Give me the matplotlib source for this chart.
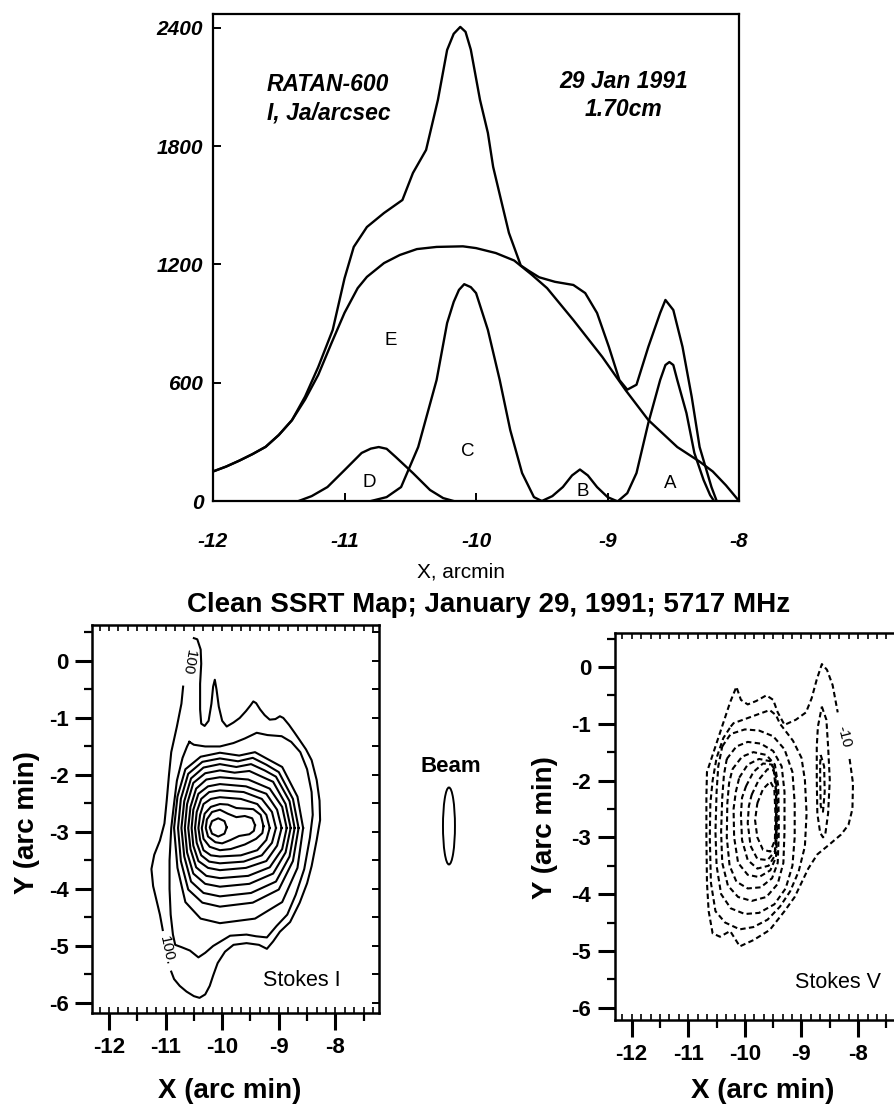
import numpy as np
import matplotlib
matplotlib.use("Agg")
import matplotlib.pyplot as plt
from matplotlib.patches import Ellipse
from matplotlib.ticker import MultipleLocator
from matplotlib.font_manager import FontProperties

# ---------------- RATAN-600 scan (1.70 cm) ----------------
x_tot = [-12.0, -11.9, -11.8, -11.7, -11.6, -11.5, -11.4, -11.3, -11.2, -11.09, -11.0,
         -10.93, -10.83, -10.70, -10.56, -10.48, -10.38, -10.29, -10.22, -10.17, -10.12,
         -10.08, -10.04, -9.97, -9.91, -9.87, -9.81, -9.75, -9.66, -9.60, -9.52, -9.40,
         -9.26, -9.17, -9.08, -8.99, -8.91, -8.85, -8.78, -8.69, -8.60, -8.56, -8.50,
         -8.43, -8.36, -8.30, -8.21, -8.17]
i_tot = [150, 175, 205, 238, 275, 335, 410, 530, 680, 868, 1130,
         1289, 1390, 1461, 1527, 1664, 1781, 2035, 2288, 2370, 2405,
         2380, 2290, 2035, 1867, 1695, 1527, 1360, 1195, 1168, 1135, 1112,
         1096, 1055, 954, 782, 614, 565, 590, 782, 954, 1020, 969,
         782, 528, 274, 71, 0]

x_e = [-12.0, -11.9, -11.8, -11.7, -11.6, -11.5, -11.4, -11.3, -11.2, -11.1, -11.0, -10.9,
       -10.83, -10.7, -10.58, -10.45, -10.3, -10.1, -10.0, -9.85, -9.71, -9.58, -9.46,
       -9.26, -9.04, -8.86, -8.69, -8.47, -8.3, -8.2, -8.1, -8.0]
i_e = [150, 175, 205, 238, 275, 335, 410, 515, 640, 800, 955, 1080,
       1137, 1207, 1248, 1278, 1289, 1292, 1283, 1258, 1220, 1150, 1080,
       918, 731, 560, 411, 274, 200, 150, 80, 0]

x_d = [-11.35, -11.25, -11.13, -11.0, -10.87, -10.80, -10.74, -10.68, -10.61, -10.48,
       -10.35, -10.25, -10.17]
i_d = [0, 25, 71, 157, 244, 266, 274, 265, 223, 142, 56, 15, 0]

x_c = [-10.80, -10.68, -10.57, -10.44, -10.30, -10.22, -10.17, -10.13, -10.09, -10.04,
       -10.0, -9.91, -9.82, -9.74, -9.65, -9.56, -9.50]
i_c = [0, 20, 71, 274, 614, 903, 1010, 1071, 1100, 1085, 1055, 868, 614, 360, 142, 20, 0]

x_b = [-9.50, -9.42, -9.34, -9.27, -9.21, -9.15, -9.08, -9.00, -8.93]
i_b = [0, 25, 71, 130, 160, 130, 71, 20, 0]

x_a = [-8.92, -8.85, -8.78, -8.69, -8.60, -8.56, -8.53, -8.50, -8.47, -8.40, -8.34,
       -8.27, -8.22, -8.19]
i_a = [0, 40, 142, 396, 614, 690, 705, 690, 614, 446, 244, 107, 30, 0]

comp_names = ["E", "C", "D", "B", "A"]
comp_label_x = [-10.65, -10.06, -10.81, -9.19, -8.52]
comp_label_y = [812, 249, 96, 46, 91]

top_xticks = [-12, -11, -10, -9, -8]
top_yticks = [0, 600, 1200, 1800, 2400]

# ---------------- SSRT 5717 MHz, Stokes I contours (arc min) ----------------
I_100a = [(-10.69, -0.45), (-10.72, -0.75), (-10.80, -1.15), (-10.90, -1.60), (-10.94, -2.00),
          (-10.98, -2.45), (-11.02, -2.85), (-11.10, -3.15), (-11.20, -3.40), (-11.25, -3.65),
          (-11.22, -3.95), (-11.16, -4.20), (-11.10, -4.45), (-11.05, -4.72)]
I_100b = [(-10.90, -5.45), (-10.85, -5.58), (-10.75, -5.70), (-10.63, -5.80), (-10.50, -5.88),
          (-10.40, -5.91), (-10.30, -5.85), (-10.22, -5.70), (-10.16, -5.52), (-10.08, -5.30),
          (-9.95, -5.10), (-9.80, -4.98), (-9.57, -4.95), (-9.35, -4.98), (-9.21, -5.05),
          (-9.10, -4.92), (-8.98, -4.75), (-8.80, -4.58), (-8.63, -4.24), (-8.50, -3.90),
          (-8.42, -3.60), (-8.33, -3.14), (-8.27, -2.79), (-8.28, -2.45), (-8.33, -2.09),
          (-8.42, -1.74), (-8.52, -1.55), (-8.63, -1.39), (-8.72, -1.26), (-8.82, -1.12),
          (-8.92, -1.00), (-8.98, -0.97), (-9.06, -1.02), (-9.16, -1.03), (-9.25, -0.95),
          (-9.33, -0.85), (-9.40, -0.74), (-9.45, -0.71), (-9.50, -0.78), (-9.58, -0.88),
          (-9.69, -1.00), (-9.80, -1.08), (-9.92, -1.15), (-10.00, -1.05), (-10.06, -0.80),
          (-10.10, -0.50), (-10.13, -0.33), (-10.16, -0.45), (-10.19, -0.75), (-10.24, -1.05),
          (-10.31, -1.14), (-10.37, -1.10), (-10.39, -0.85), (-10.39, -0.40), (-10.37, -0.05),
          (-10.38, 0.20), (-10.44, 0.38), (-10.50, 0.40)]
I_200 = [(-10.58, -1.42), (-10.50, -1.47), (-10.30, -1.50), (-10.04, -1.50), (-9.80, -1.44),
         (-9.60, -1.36), (-9.39, -1.26), (-9.20, -1.30), (-8.95, -1.32), (-8.78, -1.42),
         (-8.62, -1.60), (-8.50, -1.90), (-8.42, -2.30), (-8.40, -2.70), (-8.45, -3.10),
         (-8.55, -3.65), (-8.70, -4.10), (-8.85, -4.45), (-9.04, -4.65), (-9.21, -4.85),
         (-9.40, -4.83), (-9.57, -4.80), (-9.86, -4.82), (-10.16, -5.00), (-10.30, -5.12),
         (-10.42, -5.20), (-10.57, -5.08), (-10.72, -5.02), (-10.83, -4.98), (-10.87, -4.80),
         (-10.91, -4.45), (-10.93, -4.00), (-10.93, -3.50), (-10.90, -2.93), (-10.85, -2.50),
         (-10.80, -2.10), (-10.70, -1.70), (-10.62, -1.50)]
I_300 = [(-8.57, -2.93), (-8.67, -2.38), (-8.94, -1.86), (-9.20, -1.72), (-9.42, -1.60),
         (-9.70, -1.66), (-10.04, -1.61), (-10.38, -1.68), (-10.65, -1.90), (-10.79, -2.38),
         (-10.85, -2.93), (-10.79, -3.63), (-10.65, -4.23), (-10.38, -4.52), (-10.04, -4.60),
         (-9.42, -4.52), (-8.94, -4.23), (-8.67, -3.63)]
I_400 = [(-8.65, -2.93), (-8.75, -2.42), (-9.00, -1.95), (-9.22, -1.82), (-9.46, -1.70),
         (-9.72, -1.76), (-10.04, -1.71), (-10.35, -1.77), (-10.60, -1.98), (-10.73, -2.42),
         (-10.78, -2.93), (-10.73, -3.51), (-10.60, -4.01), (-10.35, -4.24), (-10.04, -4.31),
         (-9.46, -4.24), (-9.00, -4.01), (-8.75, -3.51)]
I_500 = [(-8.72, -2.93), (-8.81, -2.46), (-9.05, -2.03), (-9.25, -1.92), (-9.49, -1.81),
         (-9.75, -1.86), (-10.04, -1.81), (-10.33, -1.87), (-10.55, -2.06), (-10.67, -2.46),
         (-10.72, -2.93), (-10.67, -3.43), (-10.55, -3.87), (-10.33, -4.07), (-10.04, -4.13),
         (-9.49, -4.07), (-9.05, -3.87), (-8.81, -3.43)]
I_600 = [(-8.79, -2.93), (-8.88, -2.51), (-9.10, -2.12), (-9.30, -2.03), (-9.52, -1.93),
         (-9.78, -1.96), (-10.04, -1.92), (-10.30, -1.97), (-10.51, -2.14), (-10.62, -2.51),
         (-10.66, -2.93), (-10.62, -3.36), (-10.51, -3.73), (-10.30, -3.91), (-10.04, -3.96),
         (-9.52, -3.91), (-9.10, -3.73), (-8.88, -3.36)]
I_700 = [(-8.86, -2.93), (-8.94, -2.56), (-9.16, -2.24), (-9.54, -2.08), (-10.04, -2.04),
         (-10.28, -2.08), (-10.46, -2.24), (-10.56, -2.56), (-10.60, -2.93), (-10.56, -3.30),
         (-10.46, -3.62), (-10.28, -3.77), (-10.04, -3.81), (-9.54, -3.77), (-9.16, -3.62),
         (-8.94, -3.30)]
I_800 = [(-8.95, -2.93), (-9.03, -2.61), (-9.22, -2.33), (-9.58, -2.20), (-10.04, -2.16),
         (-10.25, -2.20), (-10.42, -2.33), (-10.51, -2.61), (-10.54, -2.93), (-10.51, -3.24),
         (-10.42, -3.51), (-10.25, -3.63), (-10.04, -3.67), (-9.58, -3.63), (-9.22, -3.51),
         (-9.03, -3.24)]
I_900 = [(-9.05, -2.93), (-9.12, -2.65), (-9.30, -2.42), (-9.62, -2.30), (-10.04, -2.27),
         (-10.23, -2.30), (-10.37, -2.42), (-10.45, -2.65), (-10.48, -2.93), (-10.45, -3.19),
         (-10.37, -3.41), (-10.23, -3.52), (-10.04, -3.55), (-9.62, -3.52), (-9.30, -3.41),
         (-9.12, -3.19)]
I_1000 = [(-9.16, -2.93), (-9.22, -2.70), (-9.38, -2.51), (-9.67, -2.42), (-10.04, -2.39),
          (-10.20, -2.42), (-10.33, -2.51), (-10.39, -2.70), (-10.42, -2.93), (-10.39, -3.14),
          (-10.33, -3.32), (-10.20, -3.41), (-10.04, -3.43), (-9.67, -3.41), (-9.38, -3.32),
          (-9.22, -3.14)]
I_1100 = [(-9.27, -2.90), (-9.32, -2.70), (-9.45, -2.60), (-9.75, -2.58), (-9.90, -2.52),
          (-10.04, -2.51), (-10.20, -2.56), (-10.31, -2.68), (-10.36, -2.93), (-10.33, -3.12),
          (-10.22, -3.26), (-10.04, -3.32), (-9.85, -3.30), (-9.60, -3.22), (-9.40, -3.12),
          (-9.29, -3.02)]
I_1200 = [(-9.42, -2.88), (-9.47, -2.76), (-9.60, -2.72), (-9.75, -2.74), (-9.90, -2.68),
          (-10.04, -2.61), (-10.18, -2.65), (-10.27, -2.78), (-10.29, -2.93), (-10.25, -3.08),
          (-10.12, -3.18), (-10.00, -3.20), (-9.85, -3.14), (-9.70, -3.07), (-9.52, -3.04),
          (-9.44, -2.98)]
I_1300 = [(-9.92, -2.92), (-9.96, -2.81), (-10.07, -2.76), (-10.18, -2.81), (-10.22, -2.92),
          (-10.18, -3.03), (-10.07, -3.08), (-9.96, -3.03)]

# ---------------- Stokes V contours (arc min), dashed ----------------
V_10 = [(-8.15, -1.62), (-8.09, -2.05), (-8.10, -2.50), (-8.17, -2.78), (-8.30, -2.95),
        (-8.50, -3.12), (-8.72, -3.30), (-8.88, -3.55), (-9.00, -3.80), (-9.12, -4.05),
        (-9.30, -4.30), (-9.56, -4.63), (-9.85, -4.81), (-10.09, -4.92), (-10.26, -4.65),
        (-10.44, -4.75), (-10.57, -4.69), (-10.64, -4.30), (-10.67, -3.80), (-10.68, -3.00),
        (-10.68, -2.30), (-10.67, -1.85), (-10.56, -1.52), (-10.42, -1.10), (-10.26, -0.62),
        (-10.15, -0.35), (-10.07, -0.58), (-9.95, -0.66), (-9.80, -0.60), (-9.62, -0.50),
        (-9.50, -0.58), (-9.42, -0.80), (-9.30, -1.02), (-9.10, -0.93), (-8.92, -0.80),
        (-8.82, -0.55), (-8.73, -0.22), (-8.64, 0.05), (-8.55, -0.05), (-8.45, -0.32),
        (-8.36, -0.80)]
V_20 = [(-10.25, -1.05), (-10.20, -0.99), (-9.95, -0.90), (-9.73, -0.82), (-9.56, -0.76),
        (-9.45, -0.85), (-9.38, -1.00), (-9.15, -1.30), (-9.00, -1.60), (-8.94, -1.99),
        (-8.91, -2.58), (-8.94, -3.16), (-9.05, -3.60), (-9.20, -3.95), (-9.38, -4.22),
        (-9.60, -4.45), (-9.85, -4.58), (-10.09, -4.62), (-10.35, -4.50), (-10.52, -4.30),
        (-10.60, -3.80), (-10.62, -3.00), (-10.61, -2.40), (-10.57, -2.00), (-10.50, -1.60),
        (-10.38, -1.25)]
V_20_lobe = [(-8.64, -0.70), (-8.56, -0.93), (-8.53, -1.40), (-8.50, -1.99), (-8.53, -2.58),
             (-8.58, -2.95), (-8.62, -3.00), (-8.67, -2.92), (-8.72, -2.58), (-8.73, -1.99),
             (-8.73, -1.40), (-8.71, -1.05)]
V_30_lobe = [(-8.66, -1.55), (-8.60, -1.75), (-8.59, -2.20), (-8.62, -2.55), (-8.66, -2.45),
             (-8.67, -2.00), (-8.67, -1.70)]
V_30 = [(-10.40, -1.40), (-10.25, -1.18), (-10.00, -1.10), (-9.75, -1.12), (-9.50, -1.22),
        (-9.30, -1.45), (-9.16, -1.85), (-9.12, -2.40), (-9.12, -3.00), (-9.16, -3.50),
        (-9.28, -3.90), (-9.48, -4.18), (-9.75, -4.33), (-10.00, -4.35), (-10.25, -4.25),
        (-10.42, -4.00), (-10.50, -3.50), (-10.52, -2.90), (-10.50, -2.20), (-10.47, -1.75)]
V_40 = [(-10.32, -1.62), (-10.15, -1.40), (-9.95, -1.32), (-9.72, -1.35), (-9.50, -1.48),
        (-9.35, -1.75), (-9.30, -2.20), (-9.30, -2.90), (-9.32, -3.45), (-9.42, -3.82),
        (-9.62, -4.05), (-9.88, -4.12), (-10.12, -4.05), (-10.30, -3.85), (-10.40, -3.45),
        (-10.42, -2.90), (-10.40, -2.30), (-10.37, -1.90)]
V_50 = [(-10.22, -1.80), (-10.05, -1.58), (-9.85, -1.50), (-9.62, -1.55), (-9.47, -1.72),
        (-9.41, -2.10), (-9.40, -2.90), (-9.42, -3.45), (-9.52, -3.72), (-9.72, -3.88),
        (-9.95, -3.90), (-10.15, -3.78), (-10.27, -3.50), (-10.32, -3.00), (-10.31, -2.40),
        (-10.28, -2.05)]
V_60 = [(-10.10, -1.95), (-9.95, -1.72), (-9.75, -1.62), (-9.55, -1.66), (-9.46, -1.85),
        (-9.43, -2.30), (-9.43, -2.90), (-9.45, -3.35), (-9.55, -3.58), (-9.75, -3.70),
        (-9.95, -3.66), (-10.12, -3.45), (-10.19, -3.00), (-10.20, -2.50), (-10.16, -2.20)]
V_70 = [(-9.98, -2.10), (-9.85, -1.85), (-9.68, -1.70), (-9.52, -1.72), (-9.46, -1.95),
        (-9.44, -2.50), (-9.44, -3.00), (-9.47, -3.32), (-9.58, -3.50), (-9.78, -3.55),
        (-9.95, -3.40), (-10.05, -3.05), (-10.07, -2.60), (-10.05, -2.30)]
V_80 = [(-9.88, -2.25), (-9.75, -1.98), (-9.60, -1.80), (-9.49, -1.82), (-9.45, -2.20),
        (-9.45, -2.90), (-9.47, -3.25), (-9.60, -3.40), (-9.78, -3.38), (-9.90, -3.15),
        (-9.95, -2.75), (-9.93, -2.45)]
V_90 = [(-9.78, -2.40), (-9.68, -2.15), (-9.55, -2.02), (-9.48, -2.15), (-9.46, -2.60),
        (-9.47, -3.05), (-9.55, -3.25), (-9.68, -3.22), (-9.78, -3.00), (-9.82, -2.70)]

map_xticks = [-12, -11, -10, -9, -8]
map_yticks = [-6, -5, -4, -3, -2, -1, 0]

# ---------------- drawing ----------------
sans = ["Liberation Sans", "DejaVu Sans"]
plt.rcParams["font.family"] = sans

fig = plt.figure(figsize=(8.94, 11.09), dpi=100)

# top panel
ax = fig.add_axes([0.2383, 0.5482, 0.5884, 0.4391])
for xs, ys in [(x_tot, i_tot), (x_e, i_e), (x_d, i_d), (x_c, i_c), (x_b, i_b), (x_a, i_a)]:
    ax.plot(xs, ys, color="black", lw=1.7, solid_joinstyle="round")
ax.set_xlim(-12, -8)
ax.set_ylim(0, 2470)
fp_tick = FontProperties(family=sans, weight="bold", style="italic", size=15)
ax.set_xticks(top_xticks, [str(v) for v in top_xticks], fontproperties=fp_tick)
ax.set_yticks(top_yticks, [str(v) for v in top_yticks], fontproperties=fp_tick)
ax.tick_params(axis="both", direction="in", length=6, width=1.4)
ax.tick_params(axis="x", pad=22)
ax.tick_params(axis="y", pad=7)
for s in ax.spines.values():
    s.set_linewidth(1.6)

fp_head = FontProperties(family=sans, weight="bold", style="italic", size=16.5)
ax.text(-11.59, 2111, "RATAN-600", ha="left", va="center", fontproperties=fp_head)
ax.text(-11.59, 1969, "I, Ja/arcsec", ha="left", va="center", fontproperties=fp_head)
ax.text(-8.88, 2126, "29 Jan 1991", ha="center", va="center", fontproperties=fp_head)
ax.text(-8.88, 1984, "1.70cm", ha="center", va="center", fontproperties=fp_head)
for name, lx, ly in zip(comp_names, comp_label_x, comp_label_y):
    ax.text(lx, ly, name, ha="center", va="center", fontsize=13.5)

fig.text(0.5157, 0.4842, "X, arcmin", ha="center", va="center", fontsize=15)
fig.text(0.547, 0.4545, "Clean SSRT Map; January 29, 1991; 5717 MHz",
         ha="center", va="center", fontsize=20, weight="bold")


def closed(pts):
    a = np.array(list(pts) + [pts[0]])
    return a[:, 0], a[:, 1]


def opened(pts):
    a = np.array(pts)
    return a[:, 0], a[:, 1]


fp_map = FontProperties(family=sans, weight="bold", size=16)


def style_map(a, xlim, ylim):
    a.set_xlim(*xlim)
    a.set_ylim(*ylim)
    a.set_xticks(map_xticks, [str(v) for v in map_xticks], fontproperties=fp_map)
    a.set_yticks(map_yticks, [str(v) for v in map_yticks], fontproperties=fp_map)
    a.xaxis.set_minor_locator(MultipleLocator(0.5))
    a.yaxis.set_minor_locator(MultipleLocator(0.5))
    a.tick_params(which="major", direction="out", length=12, width=2.2, pad=5)
    a.tick_params(which="minor", direction="out", length=6, width=1.6)
    a.tick_params(axis="x", which="both", top=False)
    a.tick_params(axis="y", which="both", right=False)
    for s in a.spines.values():
        s.set_linewidth(1.8)
    # fine inner ticks along top and bottom
    tx = a.twiny()
    tx.set_xlim(*xlim)
    tx.xaxis.set_major_locator(MultipleLocator(1 / 6))
    tx.tick_params(axis="x", direction="in", length=4, width=1.2, top=True, bottom=True,
                   labeltop=False, labelbottom=False)
    # inner ticks on the right edge
    ty = a.twinx()
    ty.set_ylim(*ylim)
    ty.yaxis.set_major_locator(MultipleLocator(0.5))
    ty.tick_params(axis="y", direction="in", length=5, width=1.4, labelright=False)
    for t in (tx, ty):
        for s in t.spines.values():
            s.set_visible(False)


# Stokes I map
axI = fig.add_axes([0.1029, 0.0866, 0.3210, 0.3499])
for seg in (I_100a, I_100b):
    axI.plot(*opened(seg), color="black", lw=1.5, solid_joinstyle="round")
for c in (I_200, I_300, I_400, I_500, I_600, I_700, I_800, I_900, I_1000, I_1100,
          I_1200, I_1300):
    axI.plot(*closed(c), color="black", lw=1.5, solid_joinstyle="round")
axI.text(-10.60, -0.03, "100", rotation=-100, ha="center", va="center", fontsize=11)
axI.text(-10.97, -5.08, "100.", rotation=-78, ha="center", va="center", fontsize=11)
axI.text(-8.59, -5.60, "Stokes I", ha="center", va="center", fontsize=15.5)
style_map(axI, (-12.30, -7.23), (-6.175, 0.632))

# Stokes V map
axV = fig.add_axes([0.6879, 0.0803, 0.3210, 0.3490])
dash = (0, (2.6, 1.6))
axV.plot(*opened(V_10), color="black", lw=1.5, ls=dash)
for c in (V_20, V_20_lobe, V_30_lobe, V_30, V_40, V_50, V_60, V_70, V_80, V_90):
    axV.plot(*closed(c), color="black", lw=1.5, ls=dash)
axV.text(-8.25, -1.22, "-10", rotation=-76, ha="center", va="center", fontsize=11)
axV.text(-8.36, -5.56, "Stokes V", ha="center", va="center", fontsize=15.5)
style_map(axV, (-12.295, -7.225), (-6.215, 0.599))

# beam
fig.text(0.5045, 0.3084, "Beam", ha="center", va="center", fontsize=16, weight="bold")
fig.add_artist(Ellipse((0.5022, 0.2552), 0.0134, 0.0694, transform=fig.transFigure,
                       fill=False, lw=1.4, color="black"))

# axis titles of the maps
for xc in (0.2573, 0.8535):
    fig.text(xc, 0.0160, "X (arc min)", ha="center", va="center", fontsize=20, weight="bold")
fig.text(0.0302, 0.2579, "Y (arc min)", ha="center", va="center", rotation=90,
         fontsize=20, weight="bold")
fig.text(0.6096, 0.2534, "Y (arc min)", ha="center", va="center", rotation=90,
         fontsize=20, weight="bold")

fig.savefig("out.png", dpi=100)
